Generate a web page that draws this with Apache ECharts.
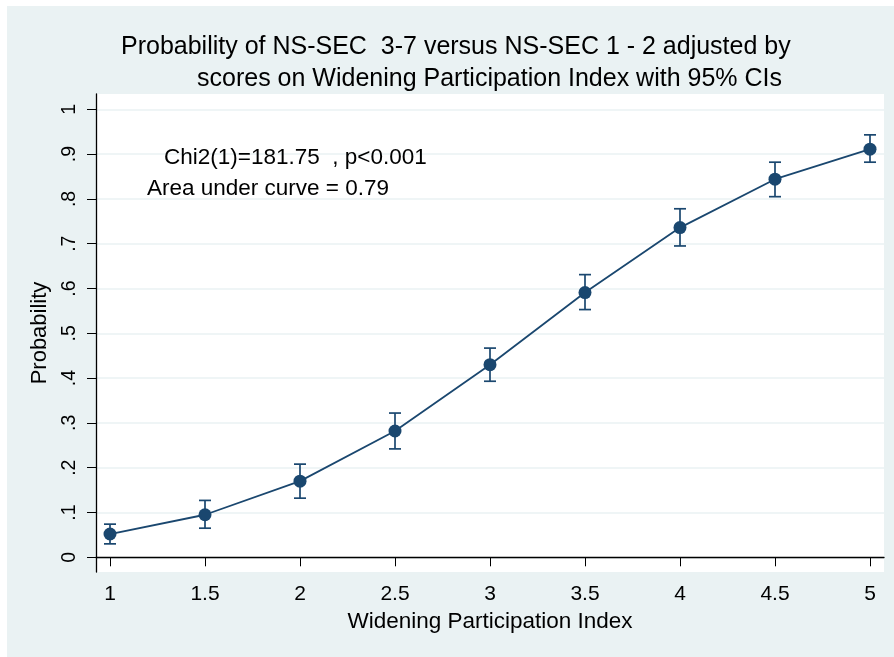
<!DOCTYPE html>
<html><head><meta charset="utf-8">
<script src="https://cdn.jsdelivr.net/npm/echarts@6/dist/echarts.min.js"></script>
<style>html,body{margin:0;padding:0;background:#fff}#c{width:894px;height:657px}</style>
</head><body><div id="c"></div>
<script>
const xValues = [1, 1.5, 2, 2.5, 3, 3.5, 4, 4.5, 5];
const probability = [0.052, 0.095, 0.170, 0.282, 0.430, 0.591, 0.736, 0.844, 0.911];
const ciLower = [0.030, 0.065, 0.132, 0.242, 0.393, 0.553, 0.695, 0.805, 0.882];
const ciUpper = [0.074, 0.127, 0.208, 0.322, 0.467, 0.631, 0.778, 0.882, 0.943];
const xTicks = [1, 1.5, 2, 2.5, 3, 3.5, 4, 4.5, 5];
const yTicks = [0, 0.1, 0.2, 0.3, 0.4, 0.5, 0.6, 0.7, 0.8, 0.9, 1];
const yTickLabels = ['0', '.1', '.2', '.3', '.4', '.5', '.6', '.7', '.8', '.9', '1'];
const titleLine1 = 'Probability of NS-SEC  3-7 versus NS-SEC 1 - 2 adjusted by';
const titleLine2 = 'scores on Widening Participation Index with 95% CIs';
const note1 = 'Chi2(1)=181.75  , p<0.001';
const note2 = 'Area under curve = 0.79';

const navy = '#1a476f';
const font = 'Liberation Sans, Arial, sans-serif';
const chart = echarts.init(document.getElementById('c'), null, {renderer: 'canvas'});
const fmtY = v => {
  const n = Number(v);
  let best = 0;
  yTicks.forEach((t, i) => { if (Math.abs(t - n) < Math.abs(yTicks[best] - n)) best = i; });
  return yTickLabels[best];
};

chart.setOption({
  backgroundColor: '#fff',
  animation: false,
  graphic: [
    {type: 'rect', shape: {x: 7, y: 6, width: 887, height: 651}, style: {fill: '#eaf2f3'}, z: -10, silent: true}
  ],
  title: [
    {text: titleLine1, left: 116, top: 30, textStyle: {fontFamily: font, fontSize: 25, fontWeight: 'normal', color: '#000'}},
    {text: titleLine2, left: 192, top: 62, textStyle: {fontFamily: font, fontSize: 25, fontWeight: 'normal', color: '#000'}},
    {text: note1, left: 159, top: 141, textStyle: {fontFamily: font, fontSize: 22.5, fontWeight: 'normal', color: '#000'}},
    {text: note2, left: 142, top: 172, textStyle: {fontFamily: font, fontSize: 22.5, fontWeight: 'normal', color: '#000'}}
  ],
  grid: {left: 96, right: 10, top: 94, bottom: 85, show: true, backgroundColor: '#fff', borderWidth: 0},
  xAxis: {
    type: 'value', min: 0.9263, max: 5.0737,
    name: 'Widening Participation Index', nameLocation: 'middle', nameGap: 38,
    nameTextStyle: {fontFamily: font, fontSize: 22.5, color: '#000'},
    axisLine: {show: true, lineStyle: {color: '#000', width: 1.3}},
    axisTick: {show: true, length: 9, lineStyle: {color: '#000'}, customValues: xTicks},
    axisLabel: {fontFamily: font, fontSize: 21, color: '#000', margin: 12, customValues: xTicks, formatter: v => String(v)},
    splitLine: {show: false}
  },
  yAxis: {
    type: 'value', min: -0.0328, max: 1.0342,
    name: 'Probability', nameLocation: 'middle', nameGap: 45, nameRotate: 90,
    nameTextStyle: {fontFamily: font, fontSize: 22, color: '#000'},
    axisLine: {show: true, lineStyle: {color: '#000', width: 1.3}},
    axisTick: {show: true, length: 9, lineStyle: {color: '#000'}, customValues: yTicks},
    axisLabel: {fontFamily: font, fontSize: 19.5, color: '#000', margin: 16, rotate: 90, customValues: yTicks, formatter: fmtY},
    splitLine: {show: true, lineStyle: {color: '#eaf2f3', width: 1.5}}
  },
  series: [
    {
      type: 'custom', z: 3,
      renderItem: (params, api) => {
        const x = api.value(0);
        const lo = api.coord([x, api.value(1)]);
        const hi = api.coord([x, api.value(2)]);
        const hw = 6;
        const st = {stroke: navy, lineWidth: 1.7};
        return {type: 'group', children: [
          {type: 'line', shape: {x1: lo[0], y1: lo[1], x2: hi[0], y2: hi[1]}, style: st},
          {type: 'line', shape: {x1: lo[0] - hw, y1: lo[1], x2: lo[0] + hw, y2: lo[1]}, style: st},
          {type: 'line', shape: {x1: hi[0] - hw, y1: hi[1], x2: hi[0] + hw, y2: hi[1]}, style: st}
        ]};
      },
      data: xValues.map((x, i) => [x, ciLower[i], ciUpper[i]])
    },
    {
      type: 'line', z: 4,
      data: xValues.map((x, i) => [x, probability[i]]),
      symbol: 'circle', symbolSize: 13,
      itemStyle: {color: navy},
      lineStyle: {color: navy, width: 1.8}
    }
  ]
});
</script></body></html>
